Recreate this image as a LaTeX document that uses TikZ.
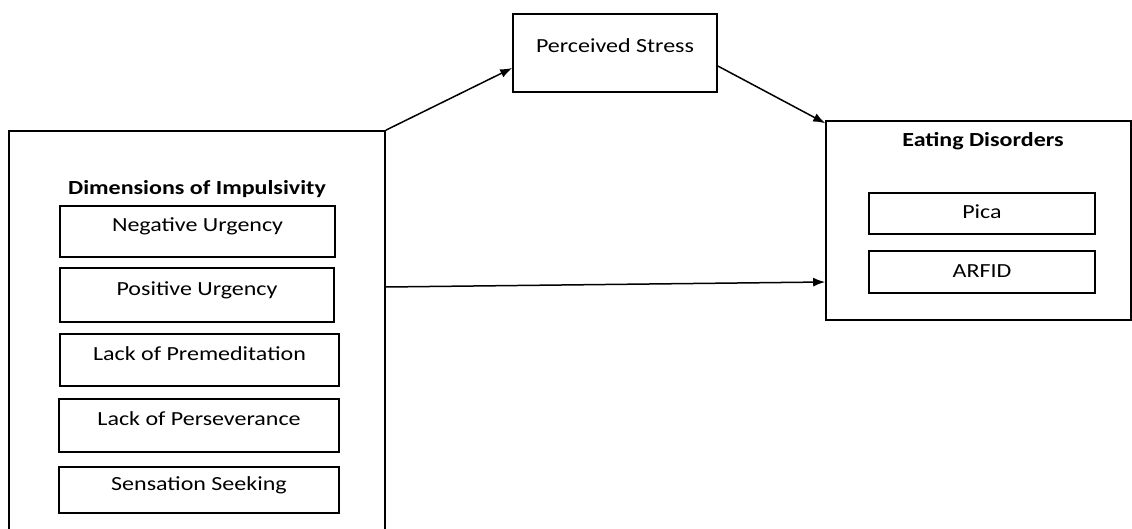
\documentclass[tikz,border=0pt]{standalone}
\usepackage{fontspec}
\setmainfont{Carlito}[FakeStretch=1.2]
\usetikzlibrary{arrows.meta}
\begin{document}
\begin{tikzpicture}[x=1pt,y=-1pt,
  box/.style={draw, line width=1.6pt, rectangle, inner sep=0pt, font=\fontsize{20}{24}\selectfont, text height=13pt, text depth=13pt},
  thinbox/.style={draw, line width=1.1pt, rectangle, inner sep=0pt, font=\fontsize{20}{24}\selectfont, text height=15pt, text depth=5pt},
  title/.style={font=\fontsize{20}{24}\selectfont\bfseries, anchor=base, inner sep=0pt},
  arr/.style={line width=1.5pt, -{Latex[length=12pt,width=9pt]}}]
\useasboundingbox (0,0) rectangle (1132,529);
\clip (0,0) rectangle (1132,529);
% left group
\node[box, minimum width=376pt, minimum height=440pt] (imp) at (197,351) {};
\node[title] (impt) at (197,194.5) {Dimensions of Impulsivity};
\node[box, minimum width=275pt, minimum height=51pt] (nu) at (197.5,231.5) {Negative Urgency};
\node[box, minimum width=274pt, minimum height=54pt] (pu) at (197,295) {Positive Urgency};
\node[box, minimum width=279pt, minimum height=52pt] (lp) at (199.5,360) {Lack of Premeditation};
\node[box, minimum width=280pt, minimum height=53pt] (lper) at (199,425.5) {Lack of Perseverance};
\node[box, minimum width=280pt, minimum height=46pt] (ss) at (199,490) {Sensation Seeking};
% mediator
\node[box, minimum width=204pt, minimum height=78pt] (stress) at (615,53) {Perceived Stress};
% outcome group
\node[box, minimum width=305pt, minimum height=199pt] (ed) at (978.5,220.5) {};
\node[title] (edt) at (983,146.5) {Eating Disorders};
\node[thinbox, minimum width=226pt, minimum height=41pt] (pica) at (982,213.5) {Pica};
\node[thinbox, minimum width=226pt, minimum height=42pt] (arfid) at (982,272) {ARFID};
% connectors
\draw[arr] (imp.north east) -- ([yshift=-15pt]stress.west);
\draw[arr] ([yshift=-13pt]stress.east) -- ([yshift=-3pt]ed.north west);
\draw[arr] ([yshift=64pt]imp.east) -- ([yshift=-61.5pt]ed.west);
\end{tikzpicture}
\end{document}
